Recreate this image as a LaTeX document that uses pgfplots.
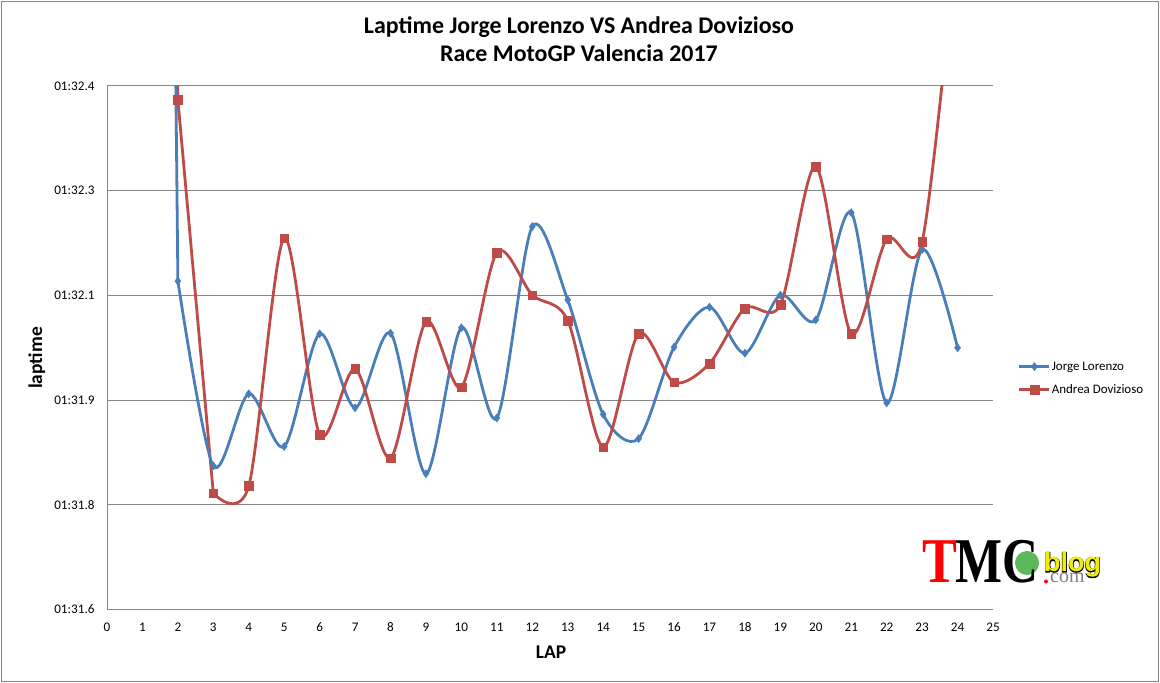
\documentclass[border=0pt]{standalone}
\usepackage{pgfplots}
\pgfplotsset{compat=1.18}
\usepackage{fontspec}
\setmainfont{Carlito}
\newfontfamily\logoserif{Liberation Serif}
\newfontface\blogin{Liberation Sans Bold}
\newfontface\blogout{Liberation Sans Bold}[FakeBold=4]
\definecolor{lblue}{HTML}{4A7EBB}
\definecolor{dred}{HTML}{BE4B48}
\definecolor{axgray}{HTML}{868686}
\definecolor{logoyellow}{HTML}{F2EE00}
\definecolor{logogreen}{HTML}{5DB85A}
\pgfplotsset{mylegend/.style={legend image code/.code={\draw[mark repeat=2,mark phase=2,##1] plot coordinates {(0bp,0bp) (15bp,0bp) (30bp,0bp)};}}}
\begin{document}
\begin{tikzpicture}[x=1bp,y=1bp]
\useasboundingbox (0,0) rectangle (1160,683);
\draw[axgray, line width=1bp] (1.5,1.5) rectangle (1158.5,681.5);
% titles
\node[font=\fontsize{24}{28}\selectfont\bfseries, anchor=base] at (579,649.7) {Laptime Jorge Lorenzo VS Andrea Dovizioso};
\node[font=\fontsize{24}{28}\selectfont\bfseries, anchor=base] at (579,621.3) {Race MotoGP Valencia 2017};
\node[font=\fontsize{19.5}{23}\selectfont\bfseries, anchor=base, rotate=90] at (42,325) {laptime};
\node[font=\fontsize{19.5}{23}\selectfont\bfseries, anchor=base] at (551,24.5) {LAP};
\begin{axis}[
  at={(107bp,73.5bp)}, anchor=south west,
  scale only axis, width=886bp, height=523.5bp,
  xmin=0, xmax=25, ymin=91.58, ymax=92.444,
  xtick={0,1,...,25},
  ytick={91.58,91.7528,91.9256,92.0984,92.2712,92.444},
  yticklabels={01:31.6,01:31.8,01:31.9,01:32.1,01:32.3,01:32.4},
  major tick length=0pt,
  axis x line*=bottom, axis y line*=left,
  axis line style={axgray, line width=1bp, -},
  ymajorgrids, grid style={axgray, line width=1bp},
  tick label style={font=\fontsize{13.2}{15}\selectfont},
  /pgf/number format/assume math mode=true,
  xticklabel style={anchor=center, yshift=-17.5bp},
  yticklabel style={anchor=east, xshift=-9bp},
  legend style={at={(1.028,0.4415)}, anchor=west, draw=none, fill=none,
    font=\fontsize{13}{15}\selectfont, inner sep=0pt, row sep=9bp,
    nodes={inner xsep=1bp}},
  legend cell align=left,
]
% Dovizioso laps 1-3 (steep part, lap 1 off the chart)
\addplot[dred, line width=2.8bp, forget plot] coordinates {(1,97.5) (2,92.421) (3,91.772)};
\addplot[only marks, mark=square*, mark size=4.3bp, mark options={solid, draw=dred, fill=dred, line width=0.3bp}, forget plot] coordinates {(2,92.421)};
% Lorenzo lap 1 (off the chart)
\addplot[lblue, line width=2.8bp, forget plot] coordinates {(1,97.8) (2,92.122)};
\addplot[lblue, line width=2.8bp, smooth, mark=diamond*, mark size=4bp, mark options={solid, fill=lblue, line width=0.5bp}, mylegend] coordinates {
(2,92.122) (3,91.817) (4,91.936) (5,91.849) (6,92.035) (7,91.913) (8,92.036)
(9,91.804) (10,92.045) (11,91.896) (12,92.212) (13,92.091) (14,91.902) (15,91.862)
(16,92.013) (17,92.079) (18,92.003) (19,92.099) (20,92.058) (21,92.235) (22,91.921)
(23,92.174) (24,92.012)};
\addlegendentry{Jorge Lorenzo}
\addplot[dred, line width=2.8bp, smooth, mark=square*, mark size=4.3bp, mark options={solid, fill=dred, line width=0.3bp}, mylegend] coordinates {
(3,91.772) (4,91.784) (5,92.193) (6,91.869) (7,91.977) (8,91.830)
(9,92.055) (10,91.947) (11,92.169) (12,92.099) (13,92.057) (14,91.848) (15,92.035)
(16,91.955) (17,91.986) (18,92.077) (19,92.083) (20,92.311) (21,92.035) (22,92.191)
(23,92.187) (24,92.700)};
\addlegendentry{Andrea Dovizioso}
\end{axis}
% logo
\fill[logogreen] (1027,120) circle (12);
\node[anchor=base west, inner sep=0pt, text=red] at (922,100) {\logoserif\bfseries\fontsize{64}{64}\selectfont\scalebox{0.82}[1]{T}};
\node[anchor=base west, inner sep=0pt, text=black] at (955,100) {\logoserif\bfseries\fontsize{64}{64}\selectfont\scalebox{0.78}[1]{MC}};
\node[anchor=base west, inner sep=0pt, text=black] at (1044,111) {\blogout\fontsize{27}{27}\selectfont blog};
\node[anchor=base west, inner sep=0pt, text=logoyellow] at (1044,111) {\blogin\fontsize{27}{27}\selectfont blog};
\fill[red] (1046,101.5) circle (2);
\node[anchor=base west, inner sep=0pt, text=gray] at (1050,100) {\logoserif\fontsize{20}{20}\selectfont com};
\end{tikzpicture}
\end{document}
